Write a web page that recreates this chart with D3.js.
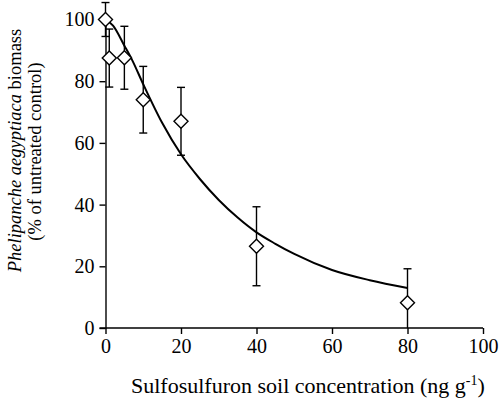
<!DOCTYPE html>
<html lang="en">
<head>
<meta charset="UTF-8">
<title>Sulfosulfuron dose response</title>
<script src="https://cdn.jsdelivr.net/npm/d3@7"></script>
<style>
  body { margin: 0; background: #fff; }
</style>
</head>
<body>
<svg id="svg"></svg>
<script>
// observed means and error bars
const conc = [0, 1, 5, 10, 20, 40, 80];
const biomass = [100, 87.5, 87.6, 74, 67, 26.5, 8.2];
const errs = [5.5, 9.4, 10.2, 10.8, 11, 12.8, 11];

// fitted curve
const curveX = [0, 2, 5, 7, 10, 15, 20, 25, 30, 35, 40, 45, 50, 60, 70, 80];
const curveY = [100, 98, 91.5, 87, 79, 66.5, 56.3, 48.3, 41.5, 35.8, 31, 27.3, 24, 18.8, 15.5, 13];

const xTicks = [0, 20, 40, 60, 80, 100];
const yTicks = [0, 20, 40, 60, 80, 100];

const width = 500, height = 399;
const svg = d3.select("#svg")
    .attr("width", width)
    .attr("height", height)
    .attr("font-family", "Times New Roman");

const x = d3.scaleLinear().domain([0, 100]).range([105.5, 483]);
const y = d3.scaleLinear().domain([0, 100]).range([328, 19.5]);

// axes
const xAxis = svg.append("g")
    .attr("transform", `translate(0,${y(0)})`)
    .call(d3.axisBottom(x).tickValues(xTicks).tickSize(6).tickPadding(5).tickSizeOuter(0));
const yAxis = svg.append("g")
    .attr("transform", `translate(${x(0)},0)`)
    .call(d3.axisLeft(y).tickValues(yTicks).tickSize(6).tickPadding(5).tickSizeOuter(0));

[xAxis, yAxis].forEach(function(g) {
    g.attr("font-family", "Times New Roman").attr("font-size", 20);
    g.selectAll("path, line").attr("stroke", "#000").attr("stroke-width", 1.4);
    g.selectAll("text").attr("font-family", "Times New Roman").attr("font-size", 20).attr("fill", "#000");
});
// extend x axis line left to meet the 0 tick
xAxis.select(".domain").attr("d", `M${x(0) - 6},0H${x(100)}`);

// fitted curve
const pts = curveX.map((d, i) => [d, curveY[i]]);
svg.append("path")
    .datum(pts)
    .attr("fill", "none")
    .attr("stroke", "#000")
    .attr("stroke-width", 2)
    .attr("d", d3.line().x(d => x(d[0])).y(d => y(d[1])).curve(d3.curveMonotoneX));

// error bars
const data = conc.map((c, i) => ({ c: c, m: biomass[i], e: errs[i] }));
const eb = svg.append("g").attr("stroke", "#000").attr("stroke-width", 1.4);
data.forEach(function(d) {
    const lo = Math.max(0, d.m - d.e), hi = d.m + d.e;
    eb.append("line").attr("x1", x(d.c)).attr("x2", x(d.c)).attr("y1", y(lo)).attr("y2", y(hi));
    eb.append("line").attr("x1", x(d.c) - 4).attr("x2", x(d.c) + 4).attr("y1", y(hi)).attr("y2", y(hi));
    if (d.m - d.e > 0) {
        eb.append("line").attr("x1", x(d.c) - 4).attr("x2", x(d.c) + 4).attr("y1", y(lo)).attr("y2", y(lo));
    }
});

// diamond markers
svg.append("g").selectAll("path")
    .data(data)
    .enter()
    .append("path")
    .attr("transform", d => `translate(${x(d.c)},${y(d.m)})`)
    .attr("d", "M0,-7L7,0L0,7L-7,0Z")
    .attr("fill", "#fff")
    .attr("stroke", "#000")
    .attr("stroke-width", 1.4);

// axis titles
const xl = svg.append("text")
    .attr("x", 131)
    .attr("y", 392.5)
    .attr("font-family", "Times New Roman")
    .attr("font-size", 22);
xl.append("tspan").text("Sulfosulfuron soil concentration (ng g");
xl.append("tspan").attr("font-size", 14).attr("dy", -8).text("-1");
xl.append("tspan").attr("dy", 8).text(")");

const yl = svg.append("text")
    .attr("transform", "translate(21,150.5) rotate(-90)")
    .attr("text-anchor", "middle")
    .attr("font-family", "Times New Roman")
    .attr("font-size", 18.5);
yl.append("tspan").attr("font-style", "italic").text("Phelipanche aegyptiaca");
yl.append("tspan").text(" biomass");

svg.append("text")
    .attr("transform", "translate(41,151.5) rotate(-90)")
    .attr("text-anchor", "middle")
    .attr("font-family", "Times New Roman")
    .attr("font-size", 18.5)
    .text("(% of untreated control)");
</script>
</body>
</html>
